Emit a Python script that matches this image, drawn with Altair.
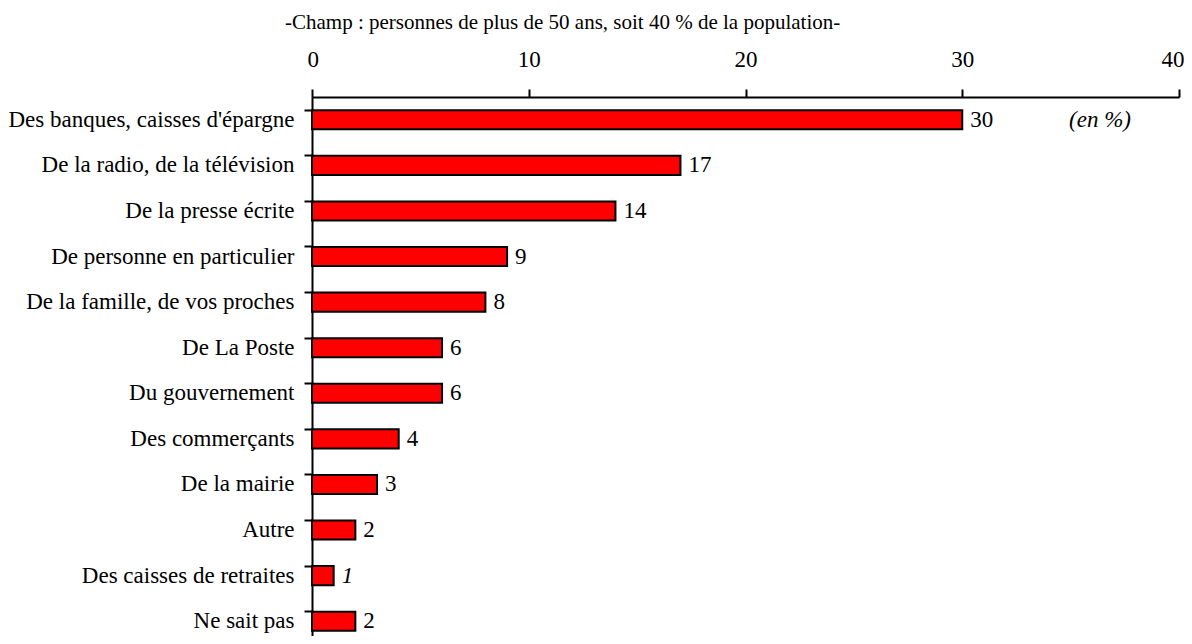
import altair as alt
import pandas as pd

categories = [
    "Des banques, caisses d'épargne",
    "De la radio, de la télévision",
    "De la presse écrite",
    "De personne en particulier",
    "De la famille, de vos proches",
    "De La Poste",
    "Du gouvernement",
    "Des commerçants",
    "De la mairie",
    "Autre",
    "Des caisses de retraites",
    "Ne sait pas",
]
values = [30, 17, 14, 9, 8, 6, 6, 4, 3, 2, 1, 2]
x_ticks = [0, 10, 20, 30, 40]
title_text = "-Champ : personnes de plus de 50 ans, soit 40 % de la population-"
unit_text = "(en %)"

df = pd.DataFrame({"cat": categories, "val": values})

FONT = "Liberation Serif"
FS = 23

y_enc = alt.Y(
    "cat:N",
    sort=categories,
    scale=alt.Scale(range=[0, 547], paddingInner=0.58, paddingOuter=0.29),
    axis=alt.Axis(
        title=None,
        bandPosition=0,
        ticks=True,
        tickSize=8,
        tickWidth=2,
        tickColor="black",
        domainColor="black",
        domainWidth=2,
        labelFont=FONT,
        labelFontSize=FS,
        labelColor="black",
        labelPadding=10,
        labelLimit=400,
    ),
)

x_enc = alt.X(
    "val:Q",
    scale=alt.Scale(domain=[0, 40], nice=False),
    axis=alt.Axis(
        orient="top",
        title=None,
        values=x_ticks,
        grid=False,
        tickSize=8,
        tickWidth=2,
        tickColor="black",
        domainColor="black",
        domainWidth=2,
        labelFont=FONT,
        labelFontSize=FS,
        labelColor="black",
        labelPadding=18,
        labelFlush=True,
        labelFlushOffset=5,
    ),
)

base = alt.Chart(df)

bars = base.mark_bar(color="#ff0000", stroke="black", strokeWidth=2).encode(
    x=x_enc, y=y_enc
)

labels = base.transform_filter(
    alt.datum.cat != "Des caisses de retraites"
).mark_text(align="left", baseline="middle", dx=8, font=FONT, fontSize=FS, color="black").encode(
    x="val:Q", y=alt.Y("cat:N", sort=categories), text="val:Q"
)

labels_it = base.transform_filter(
    alt.datum.cat == "Des caisses de retraites"
).mark_text(align="left", baseline="middle", dx=8, font=FONT, fontSize=FS, fontStyle="italic", color="black").encode(
    x="val:Q", y=alt.Y("cat:N", sort=categories), text="val:Q"
)

unit = alt.Chart(pd.DataFrame({"t": [unit_text], "cat": [categories[0]]})).mark_text(
    align="center", baseline="middle", font=FONT, fontSize=23, fontStyle="italic", color="black"
).encode(x=alt.value(788), y=alt.Y("cat:N", sort=categories), text="t:N")

chart = alt.layer(bars, labels, labels_it, unit).properties(
    width=867,
    height=539,
    title=alt.TitleParams(
        title_text,
        anchor="start",
        frame="group",
        dx=-27,
        font=FONT,
        fontSize=21,
        fontWeight="normal",
        color="black",
        offset=15,
    ),
    autosize=alt.AutoSizeParams(type="none"),
    padding={"left": 304, "top": 89, "right": 5, "bottom": 0},
).configure_view(stroke=None)

chart.save("out.html", embed_options={"renderer": "svg", "actions": False})
